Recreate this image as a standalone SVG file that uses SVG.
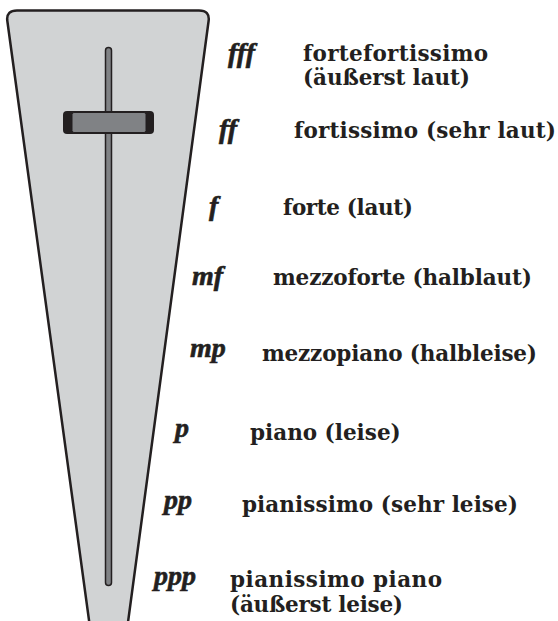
<svg xmlns="http://www.w3.org/2000/svg" width="558" height="621" viewBox="0 0 558 621">
<style>
.lbl{font-family:"DejaVu Serif","Liberation Serif",serif;font-weight:bold;font-size:21.5px;fill:#231f20}
.dyn{font-family:"Liberation Serif","DejaVu Serif",serif;font-weight:bold;font-style:italic;font-size:28px;fill:#231f20;stroke:#231f20;stroke-width:0.6}
</style>
<rect width="558" height="621" fill="#ffffff"/>
<g id="fader">
<path d="M7.2,20 Q6.5,10.5 17,10.5 L199,10.5 Q210,10.5 208.6,21 L127.5,626 L89.8,626 Z" fill="#d1d3d4" stroke="#231f20" stroke-width="2.5" stroke-linejoin="round"/>
<rect x="105.5" y="47.5" width="6" height="538" rx="3" fill="#808285" stroke="#231f20" stroke-width="1.5"/>
<rect x="63" y="111" width="91" height="23" rx="4" fill="#231f20"/>
<rect x="72" y="112.5" width="74" height="20" rx="2" fill="#808285" stroke="#231f20" stroke-width="1"/>
</g>
<g id="fff"><text class="dyn" x="228" y="62">fff</text><text class="lbl" x="303" y="61" textLength="185">fortefortissimo</text><text class="lbl" x="303" y="85" textLength="167">(äußerst laut)</text></g>
<g id="ff"><text class="dyn" x="219" y="138">ff</text><text class="lbl" x="294" y="138" textLength="262">fortissimo (sehr laut)</text></g>
<g id="f"><text class="dyn" x="209" y="215">f</text><text class="lbl" x="283" y="215" textLength="130">forte (laut)</text></g>
<g id="mf"><text class="dyn" x="192" y="285">mf</text><text class="lbl" x="273" y="285" textLength="259">mezzoforte (halblaut)</text></g>
<g id="mp"><text class="dyn" x="190" y="357">mp</text><text class="lbl" x="262" y="361" textLength="275">mezzopiano (halbleise)</text></g>
<g id="p"><text class="dyn" x="175" y="437">p</text><text class="lbl" x="250" y="440">piano (leise)</text></g>
<g id="pp"><text class="dyn" x="164" y="509">pp</text><text class="lbl" x="242" y="512" textLength="276">pianissimo (sehr leise)</text></g>
<g id="ppp"><text class="dyn" x="154" y="585">ppp</text><text class="lbl" x="230" y="587" textLength="212">pianissimo piano</text><text class="lbl" x="230" y="612" textLength="173">(äußerst leise)</text></g>
</svg>
